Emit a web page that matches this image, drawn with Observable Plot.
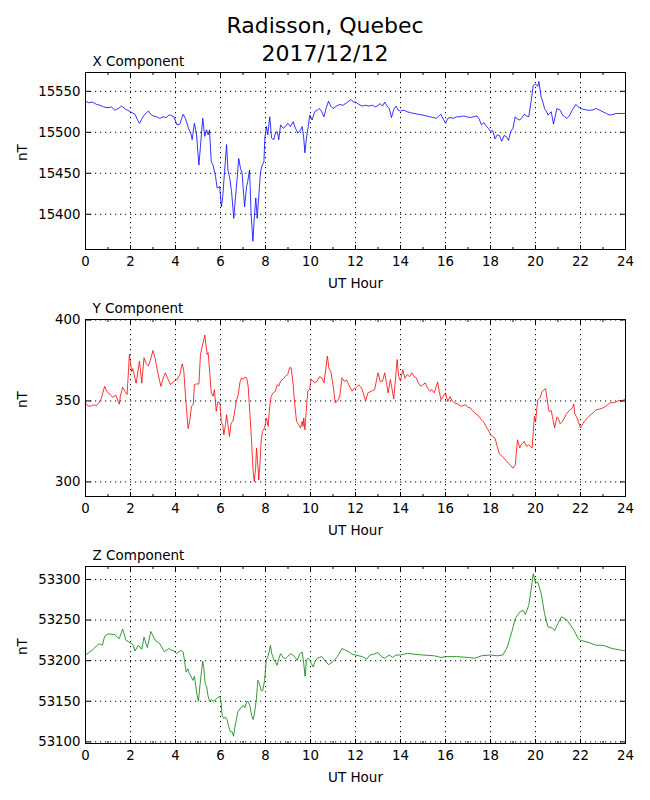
<!DOCTYPE html>
<html><head><meta charset="utf-8">
<script src="https://cdn.jsdelivr.net/npm/d3@7"></script>
<script src="https://cdn.jsdelivr.net/npm/@observablehq/plot@0.6"></script>
<style>
body{margin:0;background:#fff;}
#wrap{position:relative;width:650px;height:800px;font-family:"DejaVu Sans",sans-serif;background:#fff;}
#title{position:absolute;left:0;top:12px;width:650px;text-align:center;font-size:22px;line-height:28px;color:#000;z-index:2;}
.panel{position:absolute;left:0;}
</style></head><body>
<div id="wrap"><div id="title">Radisson, Quebec<br>2017/12/12</div></div>
<script>
const xMajor = [0,2,4,6,8,10,12,14,16,18,20,22,24];
const xMinor = [1,3,5,7,9,11,13,15,17,19,21,23];

const titles = ["X Component", "Y Component", "Z Component"];
const xAxisLabel = "UT Hour";
const yAxisLabel = "nT";

const xTicksY = [15400,15450,15500,15550];
const yTicksY = [300,350,400];
const zTicksY = [53100,53150,53200,53250,53300];

const xHours = [0,0.15,0.3,0.5,0.65,0.8,1.0,1.15,1.3,1.45,1.6,1.8,2.0,2.2,2.3,2.4,2.5,2.6,2.8,2.9,3.0,3.15,3.3,3.45,3.6,3.7,3.78,3.93,4.07,4.19,4.34,4.44,4.59,4.70,4.74,4.84,4.93,5.04,5.11,5.21,5.30,5.38,5.45,5.51,5.59,5.67,5.78,5.85,5.96,6.04,6.10,6.18,6.27,6.33,6.41,6.49,6.59,6.67,6.74,6.81,6.89,6.96,7.07,7.16,7.21,7.29,7.36,7.44,7.51,7.57,7.63,7.70,7.78,7.85,7.93,7.97,8.04,8.10,8.19,8.27,8.37,8.44,8.52,8.59,8.67,8.79,8.89,8.99,9.11,9.23,9.33,9.44,9.56,9.63,9.70,9.75,9.82,9.90,9.97,10.07,10.18,10.3,10.4,10.5,10.6,10.7,10.8,10.9,11.0,11.15,11.3,11.45,11.6,11.8,11.9,12.0,12.15,12.3,12.45,12.6,12.75,12.9,13.1,13.2,13.3,13.4,13.5,13.6,13.7,13.8,13.9,14.0,14.15,14.3,14.45,14.6,14.8,15.0,15.15,15.3,15.45,15.6,15.7,15.8,15.9,16.0,16.1,16.2,16.35,16.5,16.65,16.8,16.95,17.1,17.25,17.4,17.5,17.6,17.7,17.8,17.9,18.0,18.1,18.2,18.3,18.4,18.5,18.6,18.7,18.8,18.9,19.0,19.1,19.2,19.3,19.4,19.5,19.6,19.7,19.8,19.9,20.0,20.1,20.15,20.25,20.35,20.4,20.5,20.55,20.7,20.8,20.95,21.1,21.2,21.3,21.4,21.5,21.65,21.8,21.9,22.0,22.15,22.3,22.5,22.7,22.85,23.0,23.15,23.3,23.45,23.6,23.8,24.0];
const xValues = [15538,15536,15537,15534,15533,15531,15530,15531,15527,15529,15532,15528,15525,15522,15516,15511,15516,15521,15526,15522,15520,15519,15517,15519,15518,15521,15521,15519,15509,15510,15522,15517,15504,15497,15491,15511,15499,15460,15483,15517,15495,15503,15497,15503,15464,15460,15446,15432,15434,15409,15422,15452,15485,15454,15444,15428,15395,15422,15444,15468,15456,15450,15409,15434,15440,15454,15401,15367,15399,15420,15395,15422,15452,15460,15464,15493,15507,15497,15519,15493,15491,15499,15501,15491,15509,15505,15507,15511,15507,15513,15505,15499,15503,15507,15493,15475,15493,15507,15521,15515,15525,15527,15529,15525,15519,15530,15538,15532,15529,15532,15534,15533,15536,15540,15537,15537,15534,15532,15533,15532,15533,15531,15535,15532,15537,15532,15529,15518,15528,15532,15527,15526,15527,15525,15524,15523,15522,15521,15520,15519,15518,15517,15520,15522,15516,15511,15517,15518,15517,15519,15519,15520,15519,15518,15519,15520,15516,15509,15512,15508,15505,15501,15502,15492,15497,15496,15489,15496,15495,15490,15501,15505,15519,15516,15515,15518,15522,15520,15519,15537,15557,15559,15556,15562,15543,15535,15529,15525,15521,15525,15510,15529,15527,15521,15519,15517,15520,15528,15534,15531,15529,15528,15527,15527,15529,15527,15525,15523,15521,15522,15523,15523,15523];

const yHours = [0,0.1,0.2,0.35,0.5,0.6,0.7,0.85,0.95,1.0,1.1,1.2,1.35,1.5,1.55,1.65,1.75,1.85,1.95,2.05,2.1,2.25,2.4,2.5,2.6,2.7,2.8,2.9,3.0,3.1,3.2,3.35,3.45,3.55,3.65,3.78,3.93,4.07,4.19,4.30,4.37,4.44,4.52,4.56,4.64,4.71,4.79,4.84,4.93,5.04,5.11,5.19,5.26,5.30,5.36,5.41,5.45,5.53,5.59,5.67,5.73,5.81,5.88,5.97,6.04,6.10,6.15,6.22,6.27,6.33,6.40,6.47,6.55,6.62,6.70,6.79,6.86,6.93,7.01,7.08,7.16,7.23,7.30,7.38,7.45,7.50,7.56,7.60,7.66,7.70,7.75,7.81,7.87,7.96,8.04,8.12,8.18,8.25,8.34,8.44,8.52,8.59,8.67,8.79,8.89,8.99,9.07,9.14,9.23,9.30,9.38,9.48,9.56,9.63,9.67,9.70,9.75,9.81,9.88,9.96,10.03,10.12,10.19,10.3,10.4,10.5,10.6,10.75,10.82,10.9,11.0,11.1,11.2,11.3,11.4,11.5,11.6,11.7,11.85,11.95,12.0,12.15,12.3,12.45,12.55,12.7,12.85,13.0,13.1,13.2,13.3,13.45,13.55,13.7,13.85,13.92,14.0,14.1,14.2,14.3,14.4,14.5,14.6,14.7,14.8,14.9,15.0,15.1,15.2,15.3,15.4,15.5,15.65,15.72,15.8,15.9,16.0,16.1,16.2,16.3,16.4,16.55,16.7,16.9,17.0,17.1,17.2,17.3,17.45,17.6,17.7,17.8,17.9,18.0,18.1,18.2,18.3,18.4,18.5,18.6,18.7,18.8,18.9,19.0,19.1,19.2,19.3,19.35,19.45,19.5,19.6,19.7,19.85,19.95,20.0,20.1,20.2,20.3,20.45,20.55,20.6,20.7,20.75,20.85,20.95,21.0,21.1,21.2,21.3,21.4,21.55,21.65,21.7,21.75,21.85,22.0,22.15,22.3,22.5,22.7,22.85,23.0,23.15,23.3,23.5,23.7,23.85,24.0];
const yValues = [348.8,347,346.7,347.5,347.3,349,351.4,359,356,355,354,352.3,353.5,348,353,358.5,356,354,378.7,368,370,361,374.6,361,376.7,373,371.5,376,381.2,376,368.4,359,364,367.4,364,360.1,362.2,363.2,366.3,372.9,368.4,353.9,339.5,332.9,338.4,346.7,347.7,360.1,360.5,360.5,378.7,383.9,388.0,390.7,383.9,378.7,379.8,366.3,355,352.9,357,343.6,349.4,348.8,336.4,335.3,329.1,335.3,341.5,335.3,328.1,336.4,337.4,342.6,349.8,353.9,361.2,364.3,363.2,364.7,364.3,359.1,343.6,325,306.4,300.2,308.5,320.9,310.5,301.2,310.5,326,331.2,333.3,339.5,334.3,345.7,352.9,355,356,360.1,359.1,362.2,363.6,365.3,366.3,370.5,370.5,360.1,347.7,337.4,335.3,333.3,337.4,334.3,339.5,332.2,343.6,356,357,363.2,362.2,361.2,362.2,365,364.3,361.2,377.7,370,368.4,360,348.8,350,352.9,364.3,362,363,360,356,358,358,360,357,350,355,356,357,367.4,362,362.2,367.4,355,363.2,351.2,375.6,365,362.2,369.4,364,366.3,365,367.4,365,364.3,361,359.1,360,361.2,358,356,357,355,361.8,356,350.8,353,355,349.6,352.7,350,348.8,348,346.7,347.7,346,345.7,344,342.6,341,338.4,337,334.3,332,329.5,328,327,322,317.1,316,314.7,313,311.6,310,308.5,310.5,326,321,322.9,324,325,322,322.9,320.9,340.5,337,350.6,352,356,357.6,348,343.6,344,340.5,333.3,340,339.5,336,337.4,340,342.6,344.6,346,348.1,342,339.5,333.3,337,339.5,342,344.6,345,345.7,347,348.8,349,350.2,350,351.4];

const zHours = [0,0.3,0.6,0.75,0.85,1.0,1.3,1.5,1.65,1.8,2.0,2.1,2.2,2.35,2.5,2.6,2.75,2.9,3.1,3.3,3.5,3.7,3.78,3.93,4.04,4.15,4.25,4.34,4.40,4.47,4.55,4.62,4.70,4.77,4.84,4.90,4.96,5.02,5.08,5.16,5.21,5.26,5.32,5.38,5.44,5.51,5.59,5.67,5.78,5.88,5.97,6.03,6.07,6.15,6.22,6.30,6.37,6.44,6.52,6.58,6.64,6.70,6.77,6.86,6.93,7.01,7.08,7.16,7.23,7.30,7.38,7.45,7.51,7.59,7.66,7.73,7.81,7.88,7.96,8.03,8.10,8.16,8.22,8.28,8.37,8.44,8.52,8.59,8.67,8.79,8.89,8.99,9.11,9.23,9.33,9.41,9.53,9.63,9.70,9.76,9.82,9.90,9.97,10.04,10.12,10.19,10.3,10.5,10.65,10.8,11.0,11.2,11.4,11.55,11.7,11.85,12.0,12.3,12.5,12.65,12.8,13.0,13.15,13.3,13.5,13.65,13.8,14.0,14.3,14.6,15.0,15.5,15.8,16.0,16.5,17.0,17.3,17.6,18.0,18.3,18.55,18.75,18.95,19.1,19.3,19.45,19.55,19.7,19.8,19.9,20.0,20.1,20.25,20.4,20.55,20.75,20.85,21.0,21.15,21.4,21.7,21.9,22.0,22.3,22.7,23.0,23.4,24.0];
const zValues = [53207,53213,53221,53219,53230,53233,53232,53227,53239,53225,53222,53220,53212,53219,53214,53229,53216,53236,53225,53221,53211,53215,53213.5,53212,53208.6,53210.7,53212.7,53210.7,53200.4,53186,53190,53184,53180,53175.8,53180.7,53169.7,53157.4,53150,53167.6,53188,53199.6,53190,53171.7,53168.4,53157.4,53150,53152,53150,53152,53154.5,53156,53148,53132.8,53128.7,53130.7,53126.6,53118.4,53112.3,53112.3,53107,53118.4,53126.6,53136.9,53141,53142.2,53145,53142.2,53149.2,53150,53145,53132.8,53127.5,53134.8,53151.2,53175.8,53171.7,53162.7,53163.5,53175.8,53200.4,53204.5,53210.7,53218.9,53208.6,53201.2,53198.4,53194.3,53202.5,53208.6,53203.7,53202.5,53205.3,53208.6,53206.6,53203.7,53200.4,53208.6,53210.7,53196.3,53180.7,53200.4,53203.3,53201.2,53196.3,53192.2,53198.4,53203,53205,53200,53195,53199,53205,53215,53213,53211,53208,53207,53205,53202,53207,53208,53210,53205,53203,53207,53204,53207,53207,53209,53208,53207,53206,53204,53205,53205,53204,53203,53206,53207,53206,53207,53217,53236,53252,53260,53262,53257,53268,53287,53307,53295,53297,53283,53258,53242,53240,53237,53246,53254,53250,53238,53227,53225,53223,53219,53219,53215,53212];

const W = 540, H = 177, MB = 43;

function panel({title, hours, values, color, yDomain, yTicks, top, mt}) {
  const data = hours.map((h, i) => ({h, v: values[i]}));
  const tickOpts = {tickFormat: () => "", label: null};
  const svg = Plot.plot({
    width: 650, height: mt + H + MB,
    marginLeft: 85, marginRight: 25, marginTop: mt, marginBottom: MB,
    style: {fontFamily: "DejaVu Sans", fontSize: "13.3px", background: "transparent", color: "black", overflow: "visible"},
    x: {domain: [0, 24]},
    y: {domain: yDomain},
    marks: [
      Plot.gridX(xMajor, {stroke: "black", strokeOpacity: 1, strokeDasharray: "1.2,3.8", strokeWidth: 1}),
      Plot.gridY(yTicks, {stroke: "black", strokeOpacity: 1, strokeDasharray: "1.2,3.8", strokeWidth: 1}),
      Plot.line(data, {x: "h", y: "v", stroke: color, strokeWidth: 0.8}),
      Plot.frame({stroke: "black", strokeWidth: 1}),
      Plot.axisX(xMajor, {anchor: "bottom", tickSize: 0, tickPadding: 7, tickFormat: d => String(d), label: null}),
      Plot.axisX(xMajor, {anchor: "top", dy: H, tickSize: 5, ...tickOpts}),
      Plot.axisX(xMajor, {anchor: "bottom", dy: -H, tickSize: 5, ...tickOpts}),
      Plot.axisX(xMinor, {anchor: "top", dy: H, tickSize: 3, ...tickOpts}),
      Plot.axisX(xMinor, {anchor: "bottom", dy: -H, tickSize: 3, ...tickOpts}),
      Plot.axisY(yTicks, {anchor: "left", tickSize: 0, tickPadding: 5, tickFormat: d => String(d), label: null}),
      Plot.axisY(yTicks, {anchor: "right", dx: -W, tickSize: 5, ...tickOpts}),
      Plot.axisY(yTicks, {anchor: "left", dx: W, tickSize: 5, ...tickOpts}),
      Plot.text([title], {text: d => d, frameAnchor: "top-left", dx: 7, dy: -11, textAnchor: "start", lineAnchor: "middle", fontSize: 13.5}),
      Plot.text([xAxisLabel], {text: d => d, frameAnchor: "bottom", dy: 34, lineAnchor: "middle", fontSize: 13.5}),
      Plot.text([yAxisLabel], {text: d => d, frameAnchor: "left", dx: -63, rotate: -90, lineAnchor: "middle", fontSize: 13.5})
    ]
  });
  svg.classList.add("panel");
  svg.style.top = top + "px";
  svg.style.position = "absolute";
  document.getElementById("wrap").appendChild(svg);
}

panel({title: titles[0], hours: xHours, values: xValues, color: "#0000ff", yDomain: [15357, 15573], yTicks: xTicksY, top: 40, mt: 32});
panel({title: titles[1], hours: yHours, values: yValues, color: "#ff0000", yDomain: [291, 400.3], yTicks: yTicksY, top: 292, mt: 27});
panel({title: titles[2], hours: zHours, values: zValues, color: "#008000", yDomain: [53098, 53316], yTicks: zTicksY, top: 539, mt: 27});
</script>
</body></html>
